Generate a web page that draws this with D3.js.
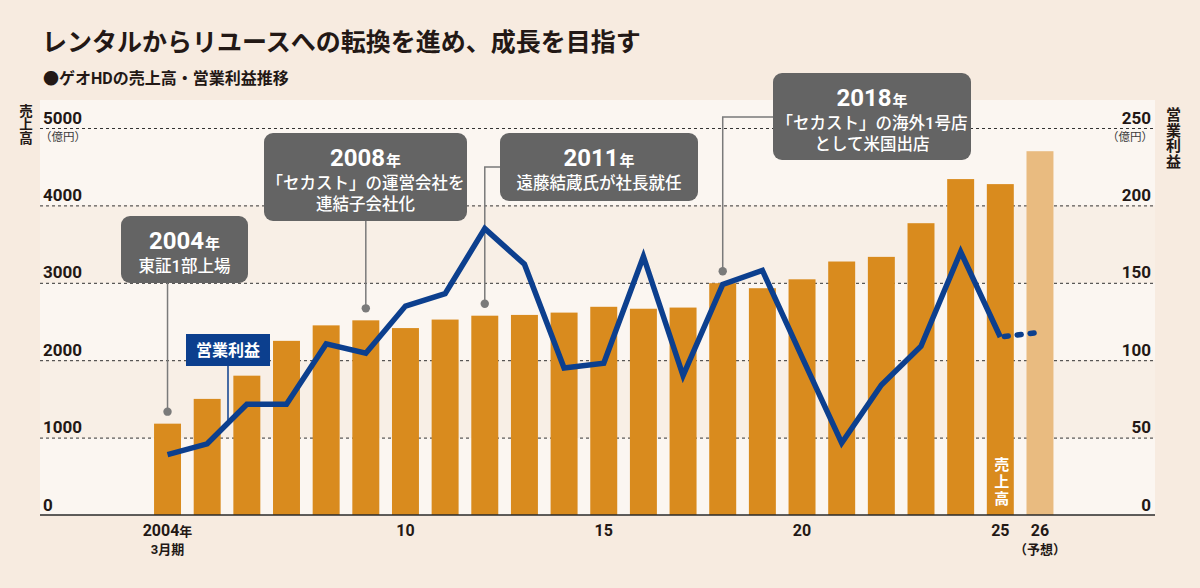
<!DOCTYPE html>
<html>
<head>
<meta charset="utf-8">
<script src="https://cdn.jsdelivr.net/npm/d3@7"></script>
<style>
  body { margin: 0; background: #f7ebe0; }
  svg { display: block; }
  text { font-family: Roboto, "Noto Sans CJK JP", sans-serif; }
</style>
</head>
<body>
<div id="chart"></div>
<script>
// 決算期 (3月期)
var years = [2004, 2005, 2006, 2007, 2008, 2009, 2010, 2011, 2012, 2013, 2014, 2015,
             2016, 2017, 2018, 2019, 2020, 2021, 2022, 2023, 2024, 2025, 2026];
// 売上高 (億円)
var sales = [1180, 1500, 1800, 2250, 2450, 2515, 2415, 2525, 2575, 2585, 2615, 2690,
             2665, 2680, 2995, 2930, 3045, 3275, 3335, 3770, 4340, 4275, 4700];
// 営業利益 (億円)
var profit = [39, 46, 71.5, 71.5, 110.5, 104.5, 135, 143, 185, 162, 95, 98,
              167, 90, 149, 158, 102, 46.5, 84, 109, 170, 115, 118];
var forecastYear = 2026;

var tickYears = [2004, 2010, 2015, 2020, 2025, 2026];
var tickLabels = ["2004", "10", "15", "20", "25", "26"];
var tickSubLabels = ["3月期", "", "", "", "", "（予想）"];
var salesTicks = [0, 1000, 2000, 3000, 4000, 5000];
var profitTicks = [0, 50, 100, 150, 200, 250];

var events = [
  { year: 2004, head: "2004", lines: ["東証1部上場"] },
  { year: 2009, head: "2008", lines: ["「セカスト」の運営会社を", "連結子会社化"] },
  { year: 2012, head: "2011", lines: ["遠藤結蔵氏が社長就任"] },
  { year: 2018, head: "2018", lines: ["「セカスト」の海外1号店", "として米国出店"] }
];

var svgWidth = 1200;
var svgHeight = 588;
var plot = { left: 40, right: 1155, top: 100, bottom: 515 };

var svg = d3.select("#chart").append("svg")
  .attr("width", svgWidth)
  .attr("height", svgHeight);

svg.append("rect").attr("width", svgWidth).attr("height", svgHeight).attr("fill", "#f7ebe0");

var x = d3.scaleBand()
  .domain(years)
  .range([147.7, 1059.8])
  .paddingInner(0.32)
  .paddingOuter(0.16);

var ySales = d3.scaleLinear().domain([0, 5000]).range([515, 128]);
var yProfit = d3.scaleLinear().domain([0, 250]).range([515, 128]);
var cx = d => x(d) + x.bandwidth() / 2;

// plot background bands
var bandColors = ["#fbf6f1", "#f8efe6"];
svg.append("rect")
  .attr("x", plot.left).attr("y", plot.top)
  .attr("width", plot.right - plot.left).attr("height", ySales(5000) - plot.top)
  .attr("fill", "#fbf6f1");
svg.selectAll("rect.band").data(salesTicks.slice(0, -1)).enter().append("rect")
  .attr("class", "band")
  .attr("x", plot.left)
  .attr("y", d => ySales(d + 1000))
  .attr("width", plot.right - plot.left)
  .attr("height", d => ySales(d) - ySales(d + 1000))
  .attr("fill", (d, i) => bandColors[i % 2]);

// title
svg.append("text")
  .attr("x", 42).attr("y", 51)
  .attr("font-size", 25).attr("font-weight", 700).attr("fill", "#231815")
  .text("レンタルからリユースへの転換を進め、成長を目指す");
svg.append("text")
  .attr("x", 43).attr("y", 84)
  .attr("font-size", 16).attr("font-weight", 700).attr("fill", "#231815")
  .text("●ゲオHDの売上高・営業利益推移");

// left axis with gridlines
var leftAxis = svg.append("g")
  .attr("transform", `translate(${plot.left},0)`)
  .call(d3.axisLeft(ySales).tickValues(salesTicks).tickSize(-(plot.right - plot.left)).tickFormat(d3.format("d")));
leftAxis.select(".domain").remove();
leftAxis.selectAll(".tick line")
  .attr("stroke", "#333333")
  .attr("stroke-width", 1)
  .attr("stroke-dasharray", "3,3")
  .attr("opacity", d => d === 0 ? 0 : 1);
leftAxis.selectAll(".tick text")
  .attr("x", 3).attr("dy", -5)
  .attr("text-anchor", "start")
  .attr("font-size", 17).attr("font-weight", 700).attr("fill", "#231815");

var rightAxis = svg.append("g")
  .attr("transform", `translate(${plot.right},0)`)
  .call(d3.axisRight(yProfit).tickValues(profitTicks).tickSize(0).tickFormat(d3.format("d")));
rightAxis.select(".domain").remove();
rightAxis.selectAll(".tick text")
  .attr("x", -4).attr("dy", -5)
  .attr("text-anchor", "end")
  .attr("font-size", 17).attr("font-weight", 700).attr("fill", "#231815");

svg.selectAll(".tick text").attr("font-family", "Roboto, 'Noto Sans CJK JP', sans-serif");

// unit labels
svg.append("text").attr("x", 40).attr("y", 141)
  .attr("font-size", 11.5).attr("fill", "#3a3a3a").text("（億円）");
svg.append("text").attr("x", 1153).attr("y", 141).attr("text-anchor", "end")
  .attr("font-size", 11.5).attr("fill", "#3a3a3a").text("（億円）");

// vertical axis titles
function verticalText(str, px, py, size, spacing, color) {
  svg.append("text")
    .attr("x", px).attr("y", py)
    .style("writing-mode", "vertical-rl")
    .style("text-orientation", "upright")
    .style("letter-spacing", spacing + "px")
    .attr("font-family", "'Noto Sans CJK JP', sans-serif")
    .attr("font-size", size).attr("font-weight", 700).attr("fill", color)
    .text(str);
}
verticalText("売上高", 25, 104, 13.5, 0, "#231815");
verticalText("営業利益", 1172, 107, 15, 0.5, "#231815");

// bars
svg.selectAll("rect.bar").data(years).enter().append("rect")
  .attr("class", "bar")
  .attr("x", d => x(d))
  .attr("y", (d, i) => ySales(sales[i]))
  .attr("width", x.bandwidth())
  .attr("height", (d, i) => ySales(0) - ySales(sales[i]))
  .attr("fill", d => d === forecastYear ? "#e9bb80" : "#d98b1e");

// baseline
svg.append("line")
  .attr("x1", plot.left).attr("x2", plot.right)
  .attr("y1", ySales(0)).attr("y2", ySales(0))
  .attr("stroke", "#2a2a2a").attr("stroke-width", 1.5);

// 売上高 label inside bar
verticalText("売上高", cx(2025), 457, 15, 2, "#ffffff");

// event connectors
var boxes = {
  2004: { x: 121, y: 216, w: 127, h: 67, elbow: null },
  2009: { x: 264, y: 133, w: 203, h: 88, elbow: null },
  2012: { x: 500, y: 133, w: 198, h: 68, elbow: 167 },
  2018: { x: 773, y: 73, w: 198, h: 87, elbow: 117 }
};
events.forEach(function(ev) {
  var b = boxes[ev.year];
  var px = cx(ev.year);
  var dotY = ySales(sales[years.indexOf(ev.year)]) - 12;
  var path = b.elbow === null
    ? `M${px},${b.y + b.h}V${dotY}`
    : `M${b.x},${b.elbow}H${px}V${dotY}`;
  svg.append("path").attr("d", path)
    .attr("fill", "none").attr("stroke", "#7a7a7a").attr("stroke-width", 1.5);
  svg.append("circle").attr("cx", px).attr("cy", dotY).attr("r", 4.2).attr("fill", "#7a7a7a");
});

// legend connector for 営業利益
var legendX = 228;
var i5 = years.indexOf(2005);
var t = (legendX - cx(2005)) / (cx(2006) - cx(2005));
var legendLineY = yProfit(profit[i5] + t * (profit[i5 + 1] - profit[i5]));
svg.append("line")
  .attr("x1", legendX).attr("x2", legendX)
  .attr("y1", 365).attr("y2", legendLineY)
  .attr("stroke", "#0c3f8e").attr("stroke-width", 1.5);

// operating profit line
var actual = years.map((d, i) => [d, profit[i]]).filter(d => d[0] !== forecastYear);
var forecast = years.map((d, i) => [d, profit[i]]).filter(d => d[0] >= forecastYear - 1);
var line = d3.line().x(d => cx(d[0])).y(d => yProfit(d[1]));

svg.append("path").datum(actual)
  .attr("d", line)
  .attr("fill", "none")
  .attr("stroke", "#0c3f8e")
  .attr("stroke-width", 5.5)
  .attr("stroke-linejoin", "miter")
  .attr("stroke-miterlimit", 6);

svg.append("path").datum(forecast)
  .attr("d", line)
  .attr("fill", "none")
  .attr("stroke", "#0c3f8e")
  .attr("stroke-width", 5.5)
  .attr("stroke-linecap", "round")
  .attr("stroke-dasharray", "4,9")
  .attr("stroke-dashoffset", 9);

// legend box
svg.append("rect").attr("x", 186).attr("y", 334).attr("width", 84).attr("height", 32).attr("fill", "#0c3f8e");
svg.append("text").attr("x", 228).attr("y", 356).attr("text-anchor", "middle")
  .attr("font-size", 16).attr("font-weight", 700).attr("fill", "#ffffff")
  .text("営業利益");

// event boxes
events.forEach(function(ev) {
  var b = boxes[ev.year];
  var g = svg.append("g");
  g.append("rect").attr("x", b.x).attr("y", b.y).attr("width", b.w).attr("height", b.h)
    .attr("rx", 9).attr("fill", "#646464");
  var mid = b.x + b.w / 2;
  var head = g.append("text").attr("x", mid).attr("y", b.y + 33)
    .attr("text-anchor", "middle").attr("fill", "#ffffff").attr("font-weight", 700);
  head.append("tspan").attr("font-size", 24).text(ev.head);
  head.append("tspan").attr("font-size", 15).attr("dx", 1).text("年");
  ev.lines.forEach(function(l, k) {
    g.append("text").attr("x", mid).attr("y", b.y + 56 + k * 21)
      .attr("text-anchor", "middle").attr("fill", "#ffffff")
      .attr("font-size", 16.5).attr("font-weight", 500)
      .text(l);
  });
});

// bottom labels
var bottomAxis = svg.append("g")
  .attr("transform", `translate(0,${ySales(0)})`)
  .call(d3.axisBottom(x).tickValues(tickYears).tickSize(0)
    .tickFormat(d => tickLabels[tickYears.indexOf(d)]));
bottomAxis.select(".domain").remove();
bottomAxis.selectAll(".tick text")
  .attr("y", 21)
  .attr("dy", 0)
  .attr("font-size", 16).attr("font-weight", 700).attr("fill", "#231815")
  .attr("font-family", "Roboto, 'Noto Sans CJK JP', sans-serif")
  .each(function(d) {
    if (d === 2004) d3.select(this).append("tspan").attr("font-size", 13).text("年");
  });
bottomAxis.selectAll(".tick").each(function(d) {
  var sub = tickSubLabels[tickYears.indexOf(d)];
  if (sub) {
    d3.select(this).append("text")
      .attr("y", 39).attr("text-anchor", "middle")
      .attr("font-size", 13).attr("font-weight", 700).attr("fill", "#231815")
      .attr("font-family", "'Noto Sans CJK JP', sans-serif")
      .text(sub);
  }
});
</script>
</body>
</html>
